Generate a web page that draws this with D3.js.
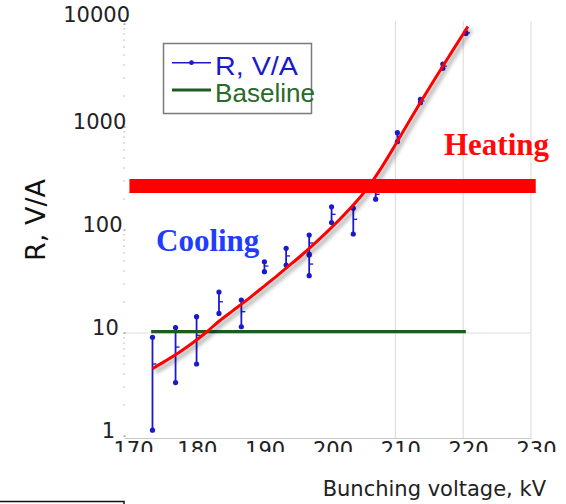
<!DOCTYPE html>
<html>
<head>
<meta charset="utf-8">
<script src="https://cdn.jsdelivr.net/npm/d3@7"></script>
<style>
  html, body { margin: 0; padding: 0; background: #fff; }
  svg { display: block; }
</style>
</head>
<body>
<svg id="chart" width="566" height="504"></svg>
<script>
// Measured impedance R (V/A) against bunching voltage (kV)
const voltage = [174.2, 177.6, 180.7, 184.0, 187.3, 190.7, 193.9, 197.3, 197.3, 200.6, 203.8, 207.1, 210.3, 213.7, 217.0, 220.4];
const rMean   = [5.0, 7.3, 9.5, 20.1, 16.1, 44.7, 56, 74.8, 46.7, 142, 127, 222, 810, 1790, 3900, 8200];
const rLow    = [1.14, 3.3, 5.0, 15.5, 11.5, 39.4, 45.7, 57.2, 36, 118, 91.4, 199, 720, 1722, 3716, 8100];
const rHigh   = [9.09, 11.3, 14.4, 25, 20.9, 49.2, 66.4, 89.4, 58.5, 168, 163, 250, 881, 1858, 4090, 8300];

// Fitted trend
const fitVoltage = [174.2, 176, 178, 180, 182, 184, 186, 188, 190, 192, 194, 196, 198, 200, 202, 204, 206, 208, 210, 212, 214, 216, 218, 220, 220.7];
const fitR       = [4.5, 5.3, 6.4, 7.9, 10.0, 13.0, 16.4, 20.6, 26.3, 33.5, 43.2, 55.6, 72.9, 97.0, 130.9, 180.7, 261.2, 408.3, 671.4, 1125, 1866, 3055, 4955, 8000, 9462];

// Reference levels
const baselineR = 10.3;
const baselineSpan = [174.0, 220.4];
const heatingR = 267;
const heatingSpan = [170.8, 230.7];

// Axis ticks
const xTicks = [170, 180, 190, 200, 210, 220, 230];
const xGridTicks = [210, 220, 230];
const yTicks = [1, 10, 100, 1000, 10000];

const svg = d3.select("#chart");
const x = d3.scaleLinear().domain([170, 230]).range([124, 531]);
const y = d3.scaleLog().domain([1, 10000]).range([436, 24]);
const axisY = 438;

const defs = svg.append("defs");
const shadow = defs.append("filter").attr("id", "soft-shadow")
  .attr("x", "-10%").attr("y", "-10%").attr("width", "130%").attr("height", "130%");
shadow.append("feDropShadow")
  .attr("dx", 3).attr("dy", 3).attr("stdDeviation", 2.2)
  .attr("flood-color", "#000").attr("flood-opacity", 0.4);
// Tick labels are cut off just below the axis; clip is in the axis group's own coordinates
defs.append("clipPath").attr("id", "xlabel-clip")
  .append("rect").attr("x", -10).attr("y", -500).attr("width", 600).attr("height", 514);

// Vertical grid lines
svg.append("g").selectAll("line").data(xGridTicks).join("line")
  .attr("x1", d => x(d)).attr("x2", d => x(d))
  .attr("y1", 21).attr("y2", axisY)
  .attr("stroke", "#d9d9d9").attr("stroke-width", 1);

// Horizontal grid line at 10
svg.append("line")
  .attr("x1", x(170)).attr("x2", x(230))
  .attr("y1", y(10)).attr("y2", y(10))
  .attr("stroke", "#dcdcdc").attr("stroke-width", 1);

// X axis
const xAxis = svg.append("g")
  .attr("transform", `translate(0,${axisY})`)
  .attr("clip-path", "url(#xlabel-clip)")
  .call(d3.axisBottom(x).tickValues(xTicks).tickSize(0).tickPadding(0).tickFormat(d3.format("d")));
xAxis.select(".domain").attr("stroke", "#c8c8c8").attr("stroke-width", 1);
xAxis.selectAll(".tick text")
  .attr("font-family", "DejaVu Sans, sans-serif")
  .attr("font-size", 21)
  .attr("fill", "#222")
  .attr("y", 0)
  .attr("dy", "0.9em")
  .attr("x", d => d === 170 ? 9 : 5);
xAxis.selectAll(".tick line").remove();

// Y axis: minor dots along the axis, labels at the decades
const minor = [];
for (let e = 0; e < 4; e++) for (let m = 2; m <= 9; m++) minor.push(m * Math.pow(10, e));
svg.append("g").selectAll("rect").data(minor).join("rect")
  .attr("x", 123.5).attr("y", d => y(d) - 0.5)
  .attr("width", 1.2).attr("height", 1.2)
  .attr("fill", "#aaa");
svg.append("g").selectAll("rect").data(yTicks).join("rect")
  .attr("x", 123.5).attr("y", d => y(d) - 0.6)
  .attr("width", 2).attr("height", 1.4)
  .attr("fill", "#999");

svg.append("g").selectAll("text").data(yTicks).join("text")
  .attr("x", d => 115 + 3.75 * Math.log10(d))
  .attr("y", d => y(d) + (d === 10000 ? -9 : -5))
  .attr("dy", "0.35em")
  .attr("text-anchor", "end")
  .attr("font-family", "DejaVu Sans, sans-serif")
  .attr("font-size", 21)
  .attr("fill", "#222")
  .text(d => d3.format("d")(d));

// Axis titles
svg.append("text")
  .attr("transform", "translate(45,220) rotate(-90)")
  .attr("text-anchor", "middle")
  .attr("font-family", "DejaVu Sans, sans-serif")
  .attr("font-size", 27)
  .attr("fill", "#111")
  .text("R, V/A");

svg.append("text")
  .attr("x", 546).attr("y", 496)
  .attr("text-anchor", "end")
  .attr("font-family", "DejaVu Sans, sans-serif")
  .attr("font-size", 21)
  .attr("fill", "#222")
  .text("Bunching voltage, kV");

// Error bars with end dots and a mean tick
const blue = "#1a1acc";
const pts = voltage.map((v, i) => ({ v, mean: rMean[i], lo: rLow[i], hi: rHigh[i] }));
const eb = svg.append("g");
eb.selectAll("line.bar").data(pts).join("line").attr("class", "bar")
  .attr("x1", d => x(d.v)).attr("x2", d => x(d.v))
  .attr("y1", d => y(d.hi)).attr("y2", d => y(d.lo))
  .attr("stroke", blue).attr("stroke-width", 1.8);
eb.selectAll("line.mean").data(pts).join("line").attr("class", "mean")
  .attr("x1", d => x(d.v)).attr("x2", d => x(d.v) + 4)
  .attr("y1", d => y(d.mean)).attr("y2", d => y(d.mean))
  .attr("stroke", blue).attr("stroke-width", 1.3);
eb.selectAll("circle.hi").data(pts).join("circle").attr("class", "hi")
  .attr("cx", d => x(d.v)).attr("cy", d => y(d.hi)).attr("r", 2.6).attr("fill", blue);
eb.selectAll("circle.lo").data(pts).join("circle").attr("class", "lo")
  .attr("cx", d => x(d.v)).attr("cy", d => y(d.lo)).attr("r", 2.6).attr("fill", blue);

// Baseline
svg.append("line")
  .attr("x1", x(baselineSpan[0])).attr("x2", x(baselineSpan[1]))
  .attr("y1", y(baselineR)).attr("y2", y(baselineR))
  .attr("stroke", "#1f5a1f").attr("stroke-width", 3.2);

// Fit curve
const fit = fitVoltage.map((v, i) => [v, fitR[i]]);
svg.append("path")
  .datum(fit)
  .attr("d", d3.line().x(d => x(d[0])).y(d => y(d[1])).curve(d3.curveCatmullRom))
  .attr("fill", "none")
  .attr("stroke", "#ff0000")
  .attr("stroke-width", 3)
  .attr("filter", "url(#soft-shadow)");

// Heating threshold band
svg.append("line")
  .attr("x1", x(heatingSpan[0])).attr("x2", x(heatingSpan[1]))
  .attr("y1", y(heatingR)).attr("y2", y(heatingR))
  .attr("stroke", "#ff0000").attr("stroke-width", 14);

// Region labels
svg.append("text")
  .attr("x", 156).attr("y", 251)
  .attr("font-family", "Liberation Serif, Times New Roman, serif")
  .attr("font-weight", "bold")
  .attr("font-size", 31)
  .attr("fill", "#1f3cff")
  .text("Cooling");
svg.append("text")
  .attr("x", 444).attr("y", 155)
  .attr("font-family", "Liberation Serif, Times New Roman, serif")
  .attr("font-weight", "bold")
  .attr("font-size", 31)
  .attr("fill", "#ff0a0a")
  .text("Heating");

// Legend
const lg = svg.append("g");
lg.append("rect")
  .attr("x", 163.5).attr("y", 43.5).attr("width", 148).attr("height", 70)
  .attr("fill", "#fff").attr("stroke", "#7a7a7a").attr("stroke-width", 1.5);
lg.append("line").attr("x1", 172).attr("x2", 211).attr("y1", 62.7).attr("y2", 62.7)
  .attr("stroke", blue).attr("stroke-width", 1.6);
lg.append("circle").attr("cx", 191.5).attr("cy", 62.7).attr("r", 2.4).attr("fill", blue);
lg.append("text").attr("x", 215).attr("y", 74.5)
  .attr("font-family", "Liberation Sans, Arial, sans-serif")
  .attr("font-size", 25).attr("fill", "#1a1acc")
  .attr("textLength", 83).attr("lengthAdjust", "spacingAndGlyphs")
  .text("R, V/A");
lg.append("line").attr("x1", 172).attr("x2", 211).attr("y1", 90).attr("y2", 90)
  .attr("stroke", "#1f5a1f").attr("stroke-width", 3);
lg.append("text").attr("x", 215).attr("y", 102)
  .attr("font-family", "Liberation Sans, Arial, sans-serif")
  .attr("font-size", 25).attr("fill", "#2a6a2a")
  .attr("textLength", 100).attr("lengthAdjust", "spacingAndGlyphs")
  .text("Baseline");

// Frame corner at the lower left
svg.append("path")
  .attr("d", "M0,501.5 H124 V510")
  .attr("fill", "none").attr("stroke", "#111").attr("stroke-width", 1.5);
</script>
</body>
</html>
